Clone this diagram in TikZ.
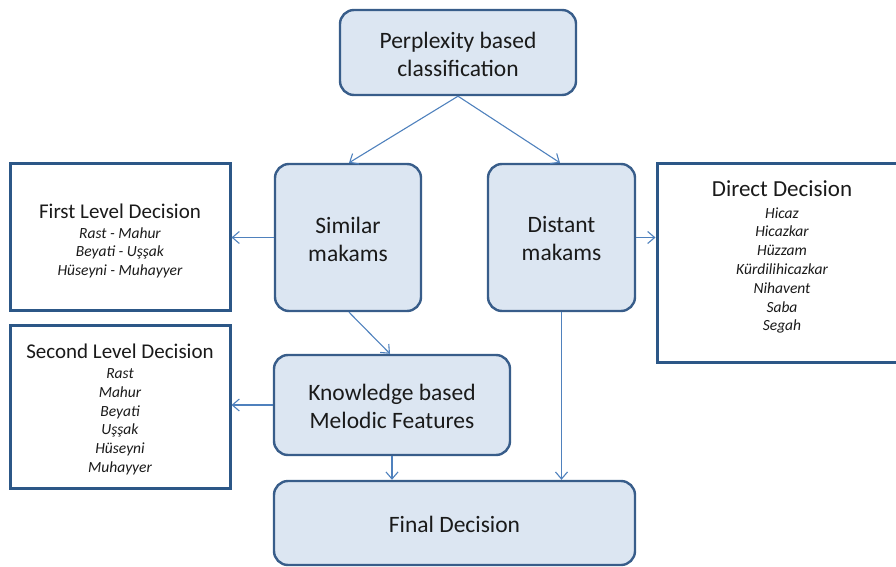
\documentclass[tikz,border=0pt]{standalone}
\usepackage{fontspec}
\setmainfont{Carlito}
\usetikzlibrary{arrows.meta}
\definecolor{boxfill}{HTML}{DCE6F2}
\definecolor{boxline}{HTML}{385D8A}
\definecolor{rectline}{HTML}{2C5787}
\definecolor{arrowc}{HTML}{4F81BD}
\definecolor{txt}{HTML}{1A1A1A}
\tikzset{
  rbox/.style={draw=boxline, line width=2.4pt, fill=boxfill, rounded corners=14pt, inner sep=0pt},
  rtxt/.style={align=center, text=txt, inner sep=0pt, font=\fontsize{23.5}{28}\selectfont},
  dbox/.style={draw=rectline, line width=3pt, fill=white, inner sep=0pt},
  list/.style={align=center, text=txt, inner sep=0pt,
    font=\fontsize{15.5}{18.8}\selectfont\itshape},
  conn/.style={draw=arrowc, line width=1.1pt, -{Straight Barb[length=7pt,width=12pt,line width=1.1pt]}},
}
\newcommand{\ttlA}[1]{{\upshape\fontsize{21}{18.8}\selectfont #1}}
\newcommand{\ttlB}[1]{{\upshape\fontsize{23}{18.8}\selectfont #1}}
\begin{document}
\begin{tikzpicture}[x=1pt,y=1pt]
\useasboundingbox (0,0) rectangle (896,566);
\node[rbox, minimum width=236pt, minimum height=85pt] (perp) at (458,513.5) {};
\node[rtxt] (perptxt) at ([yshift=-2pt]perp.center) {Perplexity based\\classification};
\node[rbox, minimum width=146pt, minimum height=147pt] (sim) at (348,328.5) {};
\node[rtxt] (simtxt) at ([yshift=-1.5pt]sim.center) {Similar\\makams};
\node[rbox, minimum width=147pt, minimum height=147pt] (dist) at (561.5,328.5) {};
\node[rtxt] (disttxt) at ([yshift=-1.5pt]dist.center) {Distant\\makams};
\node[rbox, minimum width=236pt, minimum height=100pt] (know) at (392,161) {};
\node[rtxt] (knowtxt) at ([yshift=-1.5pt]know.center) {Knowledge based\\Melodic Features};
\node[rbox, minimum width=361pt, minimum height=84pt] (final) at (454.5,43) {};
\node[rtxt] (finaltxt) at ([yshift=-1.5pt]final.center) {Final Decision};
\node[dbox, minimum width=220pt, minimum height=146pt] (first) at (120,329) {};
\node[list] (firsttxt) at (120,325)
  {\ttlA{First Level Decision}\\[1pt]
   Rast - Mahur\\Beyati - Uşşak\\Hüseyni - Muhayyer};
\node[dbox, minimum width=220pt, minimum height=163pt] (second) at (120,159.5) {};
\node[list] (secondtxt) at (120,156.5)
  {\ttlA{Second Level Decision}\\[1pt]
   Rast\\Mahur\\Beyati\\Uşşak\\Hüseyni\\Muhayyer};
\node[dbox, minimum width=243pt, minimum height=198pt] (direct) at (778.5,303) {};
\node[list] (directtxt) at (782,309)
  {\ttlB{Direct Decision}\\[3pt]
   Hicaz\\Hicazkar\\Hüzzam\\Kürdilihicazkar\\Nihavent\\Saba\\Segah};
\draw[conn] (perp.south) -- ([xshift=1pt]sim.north);
\draw[conn] (perp.south) -- ([xshift=-1.5pt]dist.north);
\draw[conn] (sim.west) -- (first.east |- sim.west);
\draw[conn] (dist.east) -- (direct.west |- dist.east);
\draw[conn] ([xshift=1pt]sim.south) -- ([xshift=-2pt]know.north);
\draw[conn] (know.west) -- (second.east |- know.west);
\draw[conn] (know.south) -- (final.north -| know.south);
\draw[conn] (dist.south) -- (final.north -| dist.south);
\end{tikzpicture}
\end{document}
